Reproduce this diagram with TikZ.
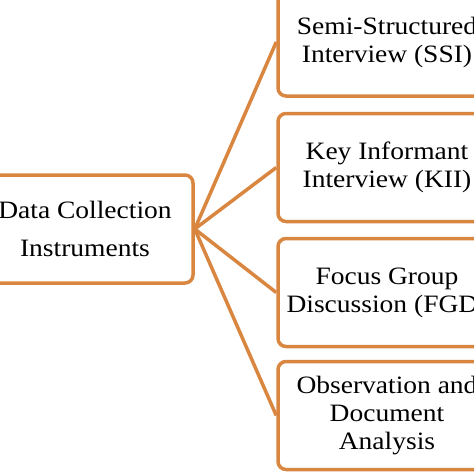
\documentclass[tikz,border=0pt]{standalone}
\usepackage{fontspec}
\setmainfont[FakeStretch=1.1]{Liberation Serif}
\definecolor{instorange}{RGB}{217,134,64}
\tikzset{
    instbox/.style={draw=instorange, line width=3.5pt, rounded corners=8pt,
        fill=white, align=center, minimum width=218pt, minimum height=108pt,
        inner sep=0pt, font=\fontsize{25}{28}\selectfont},
    instlink/.style={draw=instorange, line width=3.5pt}
}
\begin{document}
\begin{tikzpicture}[x=1pt, y=-1pt]
    \clip (0,0) rectangle (474,474);
    \node [instbox, minimum width=216pt, font=\fontsize{25}{38}\selectfont] (dci) at (85,229) {Data Collection\\Instruments};
    \node [instbox] (ssi) at (387,42)    {Semi-Structured\\Interview (SSI)};
    \node [instbox] (kii) at (387,167.5) {Key Informant\\Interview (KII)};
    \node [instbox] (fgd) at (387,292.5) {Focus Group\\Discussion (FGD)};
    \node [instbox] (oda) at (387,415.5) {Observation and\\Document\\Analysis};
    \draw [instlink] (dci.east) -- (ssi.west);
    \draw [instlink] (dci.east) -- (kii.west);
    \draw [instlink] (dci.east) -- (fgd.west);
    \draw [instlink] (dci.east) -- (oda.west);
\end{tikzpicture}
\end{document}
